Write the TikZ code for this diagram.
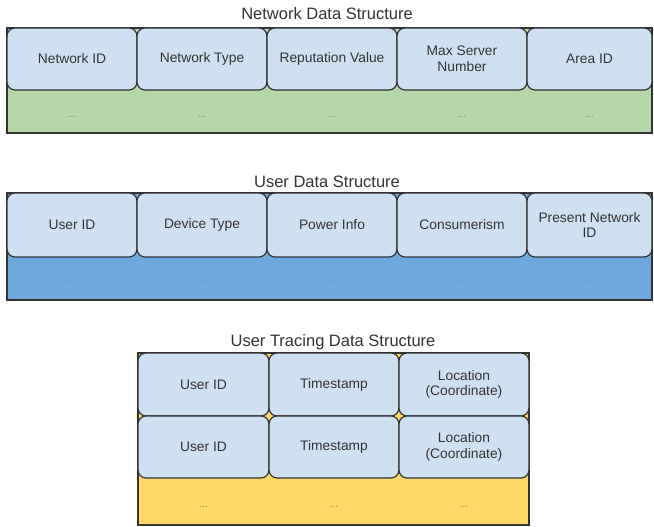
\documentclass[tikz,border=0pt]{standalone}
\usepackage{fontspec}
\setmainfont{Liberation Sans}
\definecolor{cellblue}{HTML}{CFE0F3}
\definecolor{netgreen}{HTML}{B6D7A8}
\definecolor{userblue}{HTML}{6FA8DC}
\definecolor{traceyellow}{HTML}{FFD966}
\definecolor{edge}{HTML}{333333}
\definecolor{txt}{HTML}{333333}
\tikzset{
  cell/.style={draw=edge, line width=1.2pt, fill=cellblue, rounded corners=8pt,
    inner sep=0pt, text=txt, font=\fontsize{13.8}{15.5}\selectfont, align=center},
  frame/.style={draw=edge, line width=1.3pt},
  ttl/.style={text=txt, font=\fontsize{16.5}{18}\selectfont, inner sep=0pt},
  dots/.style={text=gray, font=\fontsize{10}{11}\selectfont, inner sep=0pt}
}
\begin{document}
\begin{tikzpicture}[x=1pt,y=-1pt]
\useasboundingbox (0,0) rectangle (654,527);
\fill[white] (0,0) rectangle (654,527);
% ---------- Network ----------
\node[ttl] (t1) at (327,14) {Network Data Structure};
\draw[frame, fill=netgreen] (7,28) rectangle (652,133);
\node[cell, minimum width=130pt, minimum height=62pt] (n1) at (72,59) {Network ID};
\node[cell, minimum width=130pt, minimum height=62pt] (n2) at (202,59) {Network Type};
\node[cell, minimum width=130pt, minimum height=62pt] (n3) at (332,59) {Reputation Value};
\node[cell, minimum width=130pt, minimum height=62pt] (n4) at (462,59) {Max Server\\Number};
\node[cell, minimum width=125pt, minimum height=62pt] (n5) at (589.5,59) {Area ID};
\foreach \x/\n in {72/a,202/b,332/c,462/d,589.5/e} \node[dots] (nd\n) at (\x,117) {...};
% ---------- User ----------
\node[ttl] (t2) at (327,182) {User Data Structure};
\draw[frame, fill=userblue] (7,193) rectangle (652,300);
\node[cell, minimum width=130pt, minimum height=64pt] (u1) at (72,225) {User ID};
\node[cell, minimum width=130pt, minimum height=64pt] (u2) at (202,225) {Device Type};
\node[cell, minimum width=130pt, minimum height=64pt] (u3) at (332,225) {Power Info};
\node[cell, minimum width=130pt, minimum height=64pt] (u4) at (462,225) {Consumerism};
\node[cell, minimum width=125pt, minimum height=64pt] (u5) at (589.5,225) {Present Network\\ID};
\foreach \x/\n in {72/a,202/b,332/c,462/d,589.5/e} \node[dots] (ud\n) at (\x,282) {...};
% ---------- Tracing ----------
\node[ttl] (t3) at (333,342) {User Tracing Data Structure};
\draw[frame, fill=traceyellow] (138,353) rectangle (529,525);
\node[cell, minimum width=131pt, minimum height=63pt] (r1) at (203.5,384.5) {User ID};
\node[cell, minimum width=130pt, minimum height=63pt] (r2) at (334,384.5) {Timestamp};
\node[cell, minimum width=130pt, minimum height=63pt] (r3) at (464,384.5) {Location\\(Coordinate)};
\node[cell, minimum width=131pt, minimum height=62pt] (s1) at (203.5,447) {User ID};
\node[cell, minimum width=130pt, minimum height=62pt] (s2) at (334,447) {Timestamp};
\node[cell, minimum width=130pt, minimum height=62pt] (s3) at (464,447) {Location\\(Coordinate)};
\foreach \x/\n in {203.5/a,334/b,464/c} \node[dots] (rd\n) at (\x,507) {...};
\end{tikzpicture}
\end{document}
